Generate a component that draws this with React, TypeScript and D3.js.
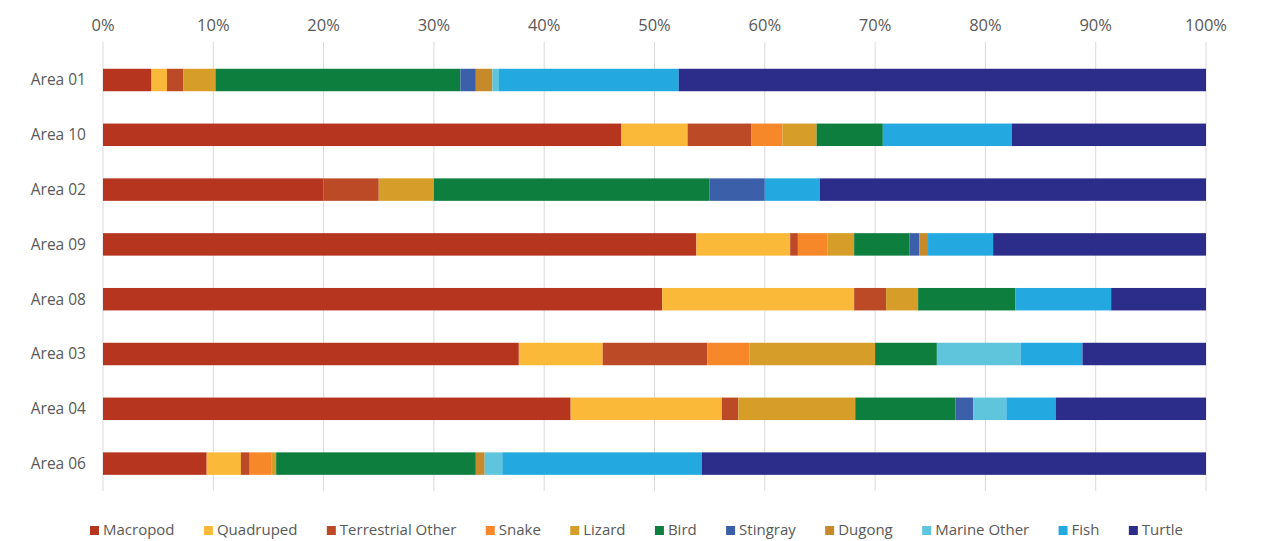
import React, { useEffect, useRef } from "react";
import * as d3 from "d3";

// Areas, top to bottom
const areas = ["Area 01", "Area 10", "Area 02", "Area 09", "Area 08", "Area 03", "Area 04", "Area 06"];

// Prey categories (stack order, left to right)
const categories = [
  "Macropod", "Quadruped", "Terrestrial Other", "Snake", "Lizard", "Bird",
  "Stingray", "Dugong", "Marine Other", "Fish", "Turtle",
];

const categoryColors = [
  "#B5351F", "#FBB93A", "#BC4A26", "#F7882A", "#D69E28", "#0D7E3E",
  "#3C5FA9", "#C68A2A", "#5EC5DD", "#23A8E0", "#2C2C8A",
];

// Percentage share of each category per area (same order as categories)
const area01 = [4.4, 1.4, 1.5, 0, 2.9, 22.2, 1.4, 1.5, 0.6, 16.3, 47.8];
const area10 = [47.0, 6.0, 5.8, 2.8, 3.1, 6.0, 0, 0, 0, 11.7, 17.6];
const area02 = [20.0, 0, 5.0, 0, 5.0, 25.0, 5.0, 0, 0, 5.0, 35.0];
const area09 = [53.8, 8.5, 0.7, 2.7, 2.4, 5.0, 0.9, 0.8, 0, 5.9, 19.3];
const area08 = [50.7, 17.4, 2.9, 0, 2.9, 8.8, 0, 0, 0, 8.7, 8.6];
const area03 = [37.7, 7.6, 9.5, 3.8, 11.4, 5.6, 0, 0, 7.6, 5.6, 11.2];
const area04 = [42.4, 13.7, 1.5, 0, 10.6, 9.1, 1.6, 0, 3.0, 4.5, 13.6];
const area06 = [9.4, 3.1, 0.8, 2.0, 0.4, 18.1, 0, 0.8, 1.6, 18.1, 45.7];

const areaValues = [area01, area10, area02, area09, area08, area03, area04, area06];

const tickValues = [0, 10, 20, 30, 40, 50, 60, 70, 80, 90, 100];

const FONT = "'Open Sans', sans-serif";
const TEXT = "#595959";

export default function App() {
  const legendRef = useRef<SVGGElement | null>(null);
  const width = 1261;
  const height = 541;

  const x = d3.scaleLinear().domain([0, 100]).range([103, 1206]);
  const y = d3
    .scaleBand<string>()
    .domain(areas)
    .range([52.6, 491])
    .paddingInner(0.59)
    .paddingOuter(0.295);

  const rows = areas.map((a, i) => {
    const row: Record<string, number | string> = { area: a };
    categories.forEach((c, j) => (row[c] = areaValues[i][j]));
    return row;
  });
  const stacked = d3.stack<Record<string, number | string>>().keys(categories)(rows as any);

  useEffect(() => {
    const g = d3.select(legendRef.current);
    g.selectAll("*").remove();
    const items = g
      .selectAll("g.item")
      .data(categories)
      .join("g")
      .attr("class", "item");
    items
      .append("rect")
      .attr("width", 9)
      .attr("height", 9)
      .attr("y", -9)
      .attr("fill", (_d, i) => categoryColors[i]);
    items
      .append("text")
      .attr("x", 13)
      .attr("font-family", FONT)
      .attr("font-size", 15)
      .attr("fill", TEXT)
      .text((d) => d);
    const widths: number[] = [];
    items.each(function () {
      const t = d3.select(this).select("text").node() as SVGTextElement;
      widths.push(13 + t.getComputedTextLength());
    });
    const total = 1183 - 90;
    const sum = d3.sum(widths);
    const gap = (total - sum) / (categories.length - 1);
    let cx = 90;
    items.attr("transform", (_d, i) => {
      const tr = `translate(${cx},0)`;
      cx += widths[i] + gap;
      return tr;
    });
  }, []);

  return (
    <svg width={width} height={height} style={{ position: "absolute", left: 0, top: 0, background: "#fff" }}>
      {/* vertical gridlines */}
      {tickValues.map((t) => (
        <line key={t} x1={x(t)} x2={x(t)} y1={42} y2={491} stroke="#D9D9D9" strokeWidth={1} />
      ))}
      {/* top axis labels */}
      {tickValues.map((t) => (
        <text
          key={"l" + t}
          x={x(t)}
          y={31}
          textAnchor="middle"
          fontFamily={FONT}
          fontSize={16.5}
          fill={TEXT}
        >
          {t + "%"}
        </text>
      ))}
      {/* area labels */}
      {areas.map((a) => (
        <text
          key={a}
          x={86}
          y={(y(a) as number) + y.bandwidth() / 2}
          dy="0.35em"
          textAnchor="end"
          fontFamily={FONT}
          fontSize={15.5}
          fill={TEXT}
        >
          {a}
        </text>
      ))}
      {/* stacked bars */}
      {stacked.map((series, si) => (
        <g key={categories[si]} fill={categoryColors[si]}>
          {series.map((d, i) =>
            d[1] - d[0] > 0 ? (
              <rect
                key={i}
                x={x(d[0])}
                y={y(areas[i]) as number}
                width={x(d[1]) - x(d[0])}
                height={y.bandwidth()}
              />
            ) : null
          )}
        </g>
      ))}
      <g ref={legendRef} transform="translate(0,535)" />
    </svg>
  );
}
